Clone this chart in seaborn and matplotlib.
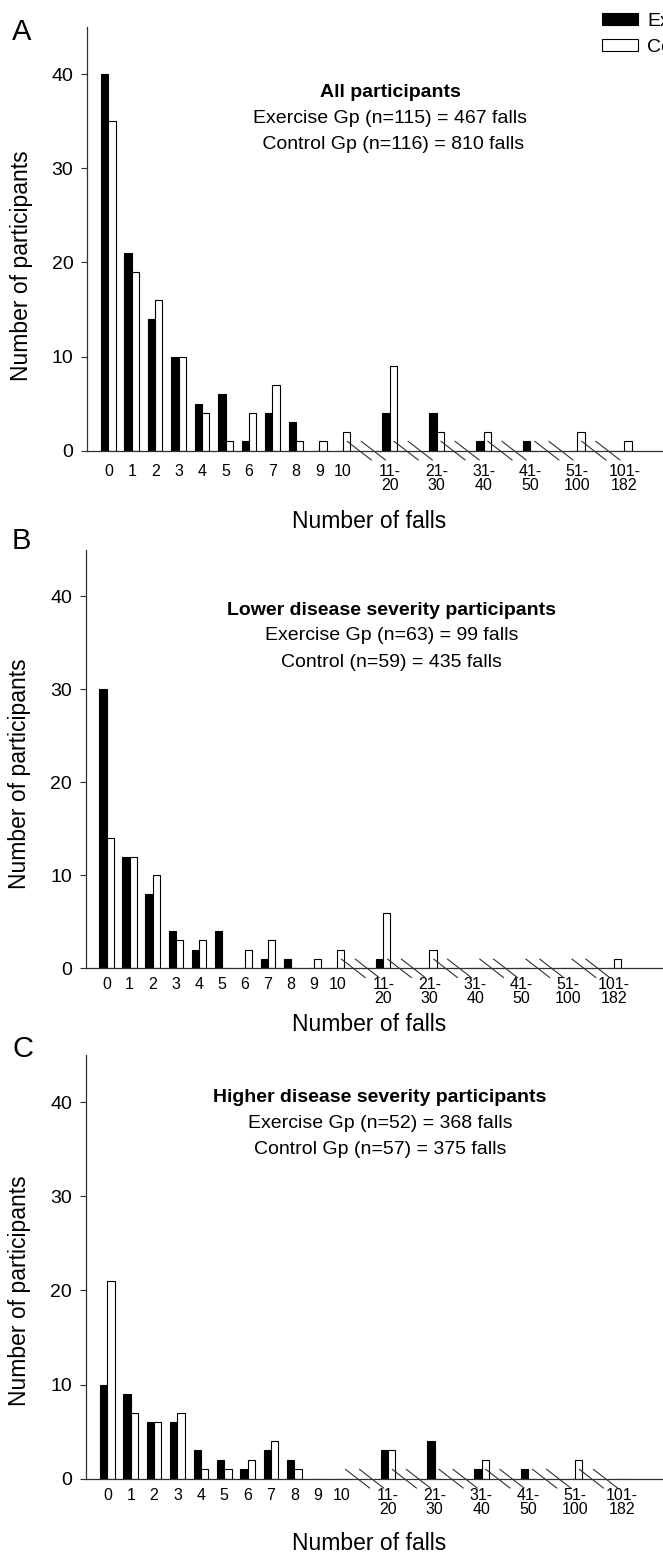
import numpy as np
import pandas as pd
import matplotlib
matplotlib.use("Agg")
import matplotlib.pyplot as plt
import seaborn as sns

# categories (number of falls); grouped bins sit two steps apart
fall_bins = ['0', '1', '2', '3', '4', '5', '6', '7', '8', '9', '10',
             '11-\n20', '21-\n30', '31-\n40', '41-\n50', '51-\n100', '101-\n182']
bin_pos = [0, 1, 2, 3, 4, 5, 6, 7, 8, 9, 10, 12, 14, 16, 18, 20, 22]
break_mids = [11, 13, 15, 17, 19, 21]

all_exercise = [40, 21, 14, 10, 5, 6, 1, 4, 3, 0, 0, 4, 4, 1, 1, 0, 0]
all_control = [35, 19, 16, 10, 4, 1, 4, 7, 1, 1, 2, 9, 2, 2, 0, 2, 1]
low_exercise = [30, 12, 8, 4, 2, 4, 0, 1, 1, 0, 0, 1, 0, 0, 0, 0, 0]
low_control = [14, 12, 10, 3, 3, 0, 2, 3, 0, 1, 2, 6, 2, 0, 0, 0, 1]
high_exercise = [10, 9, 6, 6, 3, 2, 1, 3, 2, 0, 0, 3, 4, 1, 1, 0, 0]
high_control = [21, 7, 6, 7, 1, 1, 2, 4, 1, 0, 0, 3, 0, 2, 0, 2, 0]

titles = ['All participants',
          'Lower disease severity participants',
          'Higher disease severity participants']
subtitles = [('Exercise Gp (n=115) = 467 falls', ' Control Gp (n=116) = 810 falls'),
             ('Exercise Gp (n=63) = 99 falls', 'Control (n=59) = 435 falls'),
             ('Exercise Gp (n=52) = 368 falls', 'Control Gp (n=57) = 375 falls')]
letters = ['A', 'B', 'C']
groups = ['Exercise', 'Control']

sns.set_style('ticks')
plt.rcParams['font.family'] = ['Liberation Sans', 'DejaVu Sans']
plt.rcParams['text.color'] = 'black'
plt.rcParams['axes.labelcolor'] = 'black'
plt.rcParams['axes.edgecolor'] = '#303030'
plt.rcParams['xtick.color'] = '#303030'
plt.rcParams['ytick.color'] = '#303030'
plt.rcParams['xtick.labelcolor'] = 'black'
plt.rcParams['ytick.labelcolor'] = 'black'

W, H = 663, 1554
fig = plt.figure(figsize=(W / 100, H / 100), dpi=100)

# axes rectangles and x limits per panel (from the reference layout)
rects = [[87.3 / W, 0.7100, 1 - 87.3 / W, 0.2726],
         [86.0 / W, 0.3769, 1 - 86.0 / W, 0.2692],
         [85.8 / W, 0.04846, 1 - 85.8 / W, 0.2726]]
xlims = [(-0.896, 23.65), (-0.89, 24.13), (-0.92, 23.76)]
text_x = [0.526, 0.529, 0.51]
text_y = [(0.845, 0.783, 0.722), (0.856, 0.795, 0.731), (0.899, 0.838, 0.778)]
ylab_y = [0.437, 0.466, 0.443]
xlab_y = [-0.140, -0.108, -0.126]
tick_pad = [9.5, 6.0, 6.5]
letter_top = [18, 527, 1035]

data = [(all_exercise, all_control), (low_exercise, low_control),
        (high_exercise, high_control)]

for i, (ex, ct) in enumerate(data):
    ax = fig.add_axes(rects[i])
    df = pd.DataFrame({
        'pos': bin_pos * 2,
        'group': [groups[0]] * len(bin_pos) + [groups[1]] * len(bin_pos),
        'count': ex + ct,
    })
    sns.barplot(data=df, x='pos', y='count', hue='group', hue_order=groups,
                palette={'Exercise': 'black', 'Control': 'white'},
                native_scale=True, width=0.62, edgecolor='black',
                linewidth=0.8, legend=(i == 0), ax=ax)
    sns.despine(ax=ax)

    ax.set_xlim(*xlims[i])
    ax.set_ylim(0, 45)
    ax.set_yticks([0, 10, 20, 30, 40])
    ax.set_xticks(bin_pos)
    ax.set_xticklabels(fall_bins, fontsize=11.5, linespacing=0.95)
    ax.tick_params(axis='x', length=0, pad=tick_pad[i])
    ax.tick_params(axis='y', length=4.5, width=0.8, pad=5.5, labelsize=14)
    ax.spines['left'].set_linewidth(0.9)
    ax.spines['bottom'].set_linewidth(0.9)

    ax.set_ylabel('Number of participants', fontsize=16.5)
    ax.yaxis.set_label_coords(-0.095, ylab_y[i])
    ax.set_xlabel('Number of falls', fontsize=16.5)
    ax.xaxis.set_label_coords(0.49, xlab_y[i])

    # axis break marks between the grouped bins
    for m in break_mids:
        for off in (-0.3, 0.3):
            c = m + off
            ax.plot([c - 0.52, c + 0.52], [1.0, -1.0], color='#303030',
                    lw=0.8, clip_on=False)

    ax.text(text_x[i], text_y[i][0], titles[i], transform=ax.transAxes,
            ha='center', va='center', fontsize=14, fontweight='bold')
    ax.text(text_x[i], text_y[i][1], subtitles[i][0], transform=ax.transAxes,
            ha='center', va='center', fontsize=14)
    ax.text(text_x[i], text_y[i][2], subtitles[i][1], transform=ax.transAxes,
            ha='center', va='center', fontsize=14)

    fig.text(12 / W, 1 - letter_top[i] / H, letters[i], ha='left', va='top',
             fontsize=21)

    if i == 0:
        # legend runs off the right edge, as in the source figure
        sns.move_legend(ax, 'upper left', bbox_to_anchor=(601.5 / W, 1 - 13 / H),
                        bbox_transform=fig.transFigure, frameon=False,
                        title=None, fontsize=14, handlelength=1.9,
                        handleheight=0.55, handletextpad=0.45,
                        labelspacing=0.45, borderpad=0, borderaxespad=0)

fig.savefig('out.png', dpi=100)
